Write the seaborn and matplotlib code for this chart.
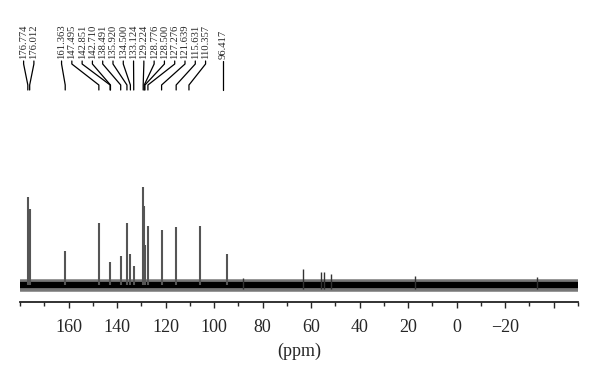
import numpy as np
import pandas as pd
import seaborn as sns
import matplotlib.pyplot as plt
from matplotlib.ticker import MultipleLocator, FuncFormatter

# peaks as drawn in the spectrum (ppm, height above baseline)
peak_ppm = [176.77, 176.01, 161.36, 147.50, 142.85, 138.49, 135.92, 134.50,
            133.12, 129.22, 128.78, 128.50, 127.28, 121.64, 115.63, 106.0, 94.6]
peak_height = [88, 76, 34, 62, 23, 29, 62, 31, 19, 98, 79, 40, 59, 55, 58, 59, 31]

# a few visible spikes in the baseline noise
spike_ppm = [63.5, 56.0, 54.5, 52.0, 17.0, 88.0, -33.0]
spike_height = [16, 13, 13, 11, 9, 7, 8]

# peak pick labels
labels = ["176.774", "176.012", "161.363", "147.495", "142.851", "142.710",
          "138.491", "135.920", "134.500", "133.124", "129.224", "128.776",
          "128.500", "127.276", "121.639", "115.631", "110.357", "96.417"]

x_range = [180, -50]
major_ticks = [160, 140, 120, 100, 80, 60, 40, 20, 0, -20, -40]


def spread_labels(pos, gap):
    # group labels that would overlap and centre each group on its mean
    groups = [[p] for p in pos]
    changed = True
    while changed:
        changed = False
        for i in range(len(groups) - 1):
            a, b = groups[i], groups[i + 1]
            a_end = np.mean(a) - gap * (len(a) - 1) / 2
            b_start = np.mean(b) + gap * (len(b) - 1) / 2
            if a_end - b_start < gap:
                groups[i] = a + b
                del groups[i + 1]
                changed = True
                break
    out = []
    for g in groups:
        c = np.mean(g)
        out += [c + gap * ((len(g) - 1) / 2 - k) for k in range(len(g))]
    return out


sns.set_style("ticks")
plt.rcParams["font.family"] = ["Liberation Serif", "DejaVu Serif"]

fig = plt.figure(figsize=(6.0, 3.83), dpi=100)
ax = fig.add_axes([20 / 600, 1 - 302 / 383, 558 / 600, 292 / 383])

base = pd.DataFrame({"ppm": x_range, "y": [0, 0]})
# fuzzy noise band: a grey halo round a black core
sns.lineplot(data=base, x="ppm", y="y", color="#777777", linewidth=9, ax=ax)
sns.lineplot(data=base, x="ppm", y="y", color="black", linewidth=4.5, ax=ax)
ax.vlines(spike_ppm, -4, spike_height, color="#333333", linewidth=1.0)
ax.vlines(peak_ppm, 0, peak_height, color="#555555", linewidth=1.5)

label_ppm = [float(s) for s in labels]
text_ppm = spread_labels(label_ppm, 4.24)
for s, p, t in zip(labels, label_ppm, text_ppm):
    ax.text(t, 226, s, rotation=90, ha="center", va="bottom", fontsize=7.6)
    ax.plot([t, t, p, p], [224, 221, 200, 195], color="black", linewidth=0.9)

ax.set_xlim(*x_range)
ax.set_ylim(-17, 275)
ax.xaxis.set_major_locator(plt.FixedLocator(major_ticks))
ax.xaxis.set_minor_locator(MultipleLocator(10))
ax.xaxis.set_major_formatter(FuncFormatter(
    lambda v, _: "" if v < -30 else f"{v:.0f}".replace("-", "\u2212")))
ax.tick_params(axis="x", which="major", length=4, width=1, labelsize=13, pad=8)
ax.tick_params(axis="x", which="minor", length=3, width=1)
ax.set_yticks([])
ax.set_ylabel("")
ax.set_xlabel("(ppm)", fontsize=13, labelpad=5)
for side in ["left", "right", "top"]:
    ax.spines[side].set_visible(False)
ax.spines["bottom"].set_linewidth(1.3)
ax.spines["bottom"].set_color("#222222")

fig.savefig("out.png", dpi=100)
